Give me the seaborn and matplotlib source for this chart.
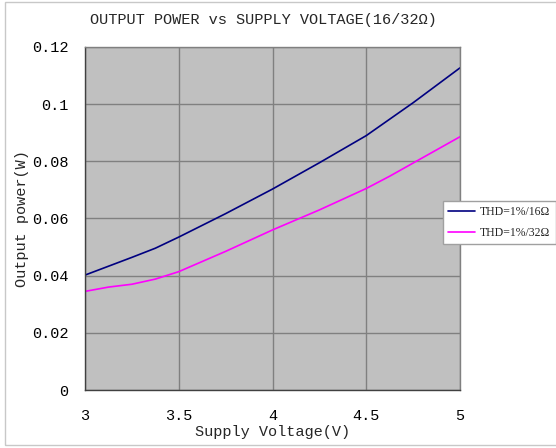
import matplotlib
matplotlib.use("Agg")
import matplotlib.pyplot as plt
from matplotlib.patches import Rectangle
import seaborn as sns
import pandas as pd

# Measured output power (W) versus supply voltage (V)
volt_16 = [3.0, 3.25, 3.375, 3.5, 3.75, 4.0, 4.25, 4.5, 4.75, 5.0]
power_16 = [0.0402, 0.0464, 0.0496, 0.0535, 0.0617, 0.0703, 0.0795, 0.0890, 0.1005, 0.1127]

volt_32 = [3.0, 3.125, 3.25, 3.375, 3.5, 3.75, 4.0, 4.25, 4.5, 4.625, 5.0]
power_32 = [0.0345, 0.0360, 0.0370, 0.0388, 0.0414, 0.0485, 0.0560, 0.0630, 0.0705, 0.0748, 0.0886]

series_names = ["THD=1%/16Ω", "THD=1%/32Ω"]
series_colors = ["#000080", "#FF00FF"]

x_ticks = [3, 3.5, 4, 4.5, 5]
x_tick_labels = ["3", "3.5", "4", "4.5", "5"]
y_ticks = [0, 0.02, 0.04, 0.06, 0.08, 0.1, 0.12]
y_tick_labels = ["0", "0.02", "0.04", "0.06", "0.08", "0.1", "0.12"]

df = pd.concat([
    pd.DataFrame({"voltage": volt_16, "power": power_16, "series": series_names[0]}),
    pd.DataFrame({"voltage": volt_32, "power": power_32, "series": series_names[1]}),
])

sns.set_theme(style="white")
plt.rcParams["font.family"] = ["Liberation Mono", "DejaVu Sans Mono"]

fig = plt.figure(figsize=(5.56, 4.48), dpi=100)
ax = fig.add_axes([85 / 556, 1 - 390 / 448, 375 / 556, 343 / 448])
ax.set_facecolor("#C0C0C0")

sns.lineplot(data=df, x="voltage", y="power", hue="series",
             palette=dict(zip(series_names, series_colors)),
             linewidth=1.2, ax=ax, legend=False, sort=True)

ax.set_xlim(3, 5)
ax.set_ylim(0, 0.12)
ax.set_xticks(x_ticks)
ax.set_xticklabels(x_tick_labels, fontsize=11)
ax.set_yticks(y_ticks)
ax.set_yticklabels(y_tick_labels, fontsize=11)
ax.tick_params(axis="x", length=0, pad=14, colors="black")
ax.tick_params(axis="y", length=0, pad=12, colors="black")
ax.grid(True, color="#808080", linewidth=1.0)
ax.set_axisbelow(True)
for side, sp in ax.spines.items():
    sp.set_visible(True)
    sp.set_color("#808080")
    sp.set_linewidth(1.0)
ax.spines["left"].set_color("#404040")
ax.spines["bottom"].set_color("#404040")

ax.set_xlabel("Supply Voltage(V)", fontsize=11, labelpad=1)
ax.set_ylabel("Output power(W)", fontsize=11, labelpad=2)
fig.text(263 / 556, 1 - 20 / 448, "OUTPUT POWER vs SUPPLY VOLTAGE(16/32Ω)",
         fontsize=11, ha="center", va="center")

handles = [plt.Line2D([], [], color=c, linewidth=1.2) for c in series_colors]
fig.legend(handles, series_names, loc="upper left",
           bbox_to_anchor=(443 / 556, 1 - 201 / 448),
           prop={"family": "Liberation Serif", "size": 8.5},
           frameon=True, fancybox=False, edgecolor="#A0A0A0",
           framealpha=1.0, borderpad=0.45, handlelength=2.3,
           handletextpad=0.4, labelspacing=0.75, borderaxespad=0)

fig.patches.append(Rectangle((5 / 556, 3 / 448), 560 / 556, 443 / 448,
                             transform=fig.transFigure, fill=False,
                             edgecolor="#C8C8C8", linewidth=1.0))

fig.savefig("out.png", dpi=100)
